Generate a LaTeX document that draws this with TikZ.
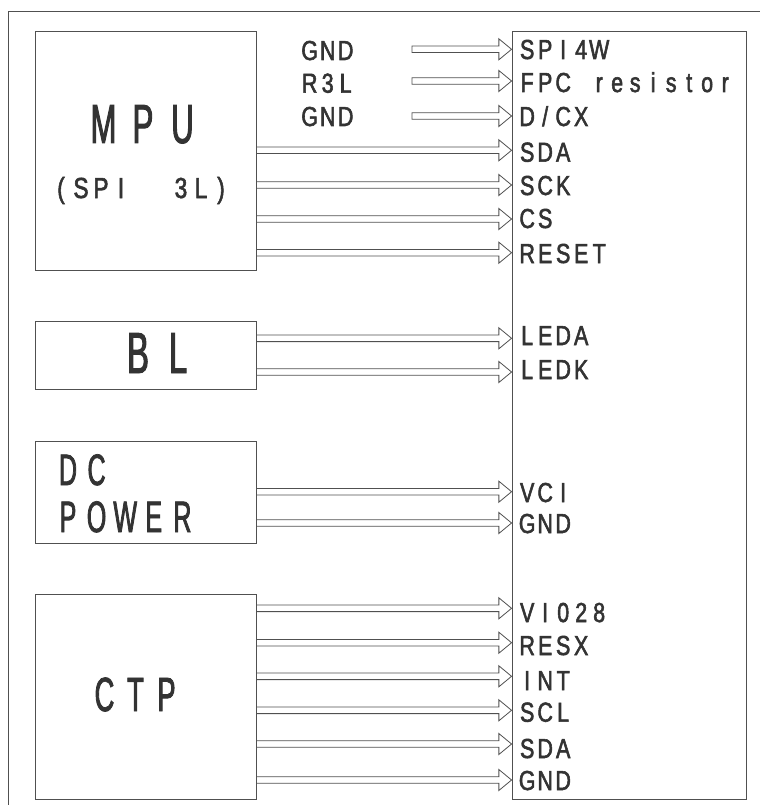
\documentclass[tikz,border=0pt]{standalone}
\usepackage{fontspec}
\usetikzlibrary{calc}
\newfontfamily\cadS[FakeStretch=0.78,FakeBold=2]{Liberation Sans}
\newfontfamily\cadL[FakeStretch=0.57,FakeBold=1.7]{Liberation Sans}
\ExplSyntaxOn
\NewDocumentCommand\pitched{mm}{\tl_map_inline:nn{#2}{\makebox[#1][c]{##1}}}
\ExplSyntaxOff
\definecolor{linec}{HTML}{505050}
\definecolor{textc}{HTML}{333333}
\newcommand\hollow[2]{%
  \draw[harrow] ($(#1)+(0,-3.3)$) -- ($(#2)+(-12.7,-3.3)$) -- ($(#2)+(-12.7,-10.5)$)
    -- (#2) -- ($(#2)+(-12.7,10.5)$) -- ($(#2)+(-12.7,3.3)$) -- ($(#1)+(0,3.3)$) -- cycle;}
\begin{document}
\begin{tikzpicture}[x=1pt,y=-1pt,
  blockbox/.style={draw=linec,line width=0.9pt,inner sep=0pt,fill=none},
  harrow/.style={draw=linec,line width=0.8pt,line join=miter},
  frameline/.style={draw=linec,line width=0.9pt},
  pinlabel/.style={anchor=base west,inner sep=0pt,text=textc,font=\cadS\fontsize{27.5}{31}\selectfont},
  bigtext/.style={anchor=base,inner sep=0pt,text=textc}]
\useasboundingbox (0,0) rectangle (760,805);
\fill[white] (0,0) rectangle (760,805);
\draw[frameline] (8,805) -- (8,11) -- (760,11);
% blocks
\node[blockbox,minimum width=221pt,minimum height=239pt] (mpu) at (145.5,150.5) {};
\node[blockbox,minimum width=221pt,minimum height=68pt] (bl) at (145.5,355) {};
\node[blockbox,minimum width=221pt,minimum height=102pt] (dc) at (145.5,492) {};
\node[blockbox,minimum width=221pt,minimum height=205pt] (ctp) at (145.5,696.5) {};
\node[blockbox,minimum width=234pt,minimum height=768pt] (panel) at (629,415) {};
% block texts
\node[bigtext,font=\cadL\fontsize{55}{62}\selectfont] (tmpu) at (143,143) {\pitched{39.5pt}{MPU}};
\node[bigtext,font=\cadS\fontsize{29}{33}\selectfont] (tspi) at (141,198) {\pitched{20pt}{(SPI~~3L)}};
\node[bigtext,font=\cadL\fontsize{58}{64}\selectfont] (tbl) at (158,373) {\pitched{40pt}{BL}};
\node[bigtext,anchor=base west,font=\cadL\fontsize{44}{50}\selectfont] (tdc) at (53.5,485) {\pitched{28.6pt}{DC}};
\node[bigtext,anchor=base west,font=\cadL\fontsize{44}{50}\selectfont] (tpow) at (53.5,532) {\pitched{28.6pt}{POWER}};
\node[bigtext,font=\cadL\fontsize{48}{54}\selectfont] (tctp) at (135.5,711) {\pitched{31pt}{CTP}};
% left top labels
\node[pinlabel] (lg1) at (300.5,60) {\pitched{18pt}{GND}};
\node[pinlabel] (lr3) at (300.5,92.7) {\pitched{18pt}{R3L}};
\node[pinlabel] (lg2) at (300.5,126) {\pitched{18pt}{GND}};
% pin labels
\node[pinlabel] (nspi) at (518,59) {\pitched{18pt}{SPI4W}};
\node[pinlabel] (nfpc) at (518,92) {\pitched{18pt}{FPC~resistor}};
\node[pinlabel] (ndcx) at (518,126) {\pitched{18pt}{D/CX}};
\node[pinlabel] (nsda) at (518,161.7) {\pitched{18pt}{SDA}};
\node[pinlabel] (nsck) at (518,195) {\pitched{18pt}{SCK}};
\node[pinlabel] (ncs) at (518,228) {\pitched{18pt}{CS}};
\node[pinlabel] (nrst) at (518,263) {\pitched{18pt}{RESET}};
\node[pinlabel] (nleda) at (518,345) {\pitched{18pt}{LEDA}};
\node[pinlabel] (nledk) at (518,379) {\pitched{18pt}{LEDK}};
\node[pinlabel] (nvci) at (518,502) {\pitched{18pt}{VCI}};
\node[pinlabel] (ngnd) at (518,533) {\pitched{18pt}{GND}};
\node[pinlabel] (nvio) at (518,622) {\pitched{18pt}{VI028}};
\node[pinlabel] (nresx) at (518,655) {\pitched{18pt}{RESX}};
\node[pinlabel] (nint) at (518,690) {\pitched{18pt}{INT}};
\node[pinlabel] (nscl) at (518,721.7) {\pitched{18pt}{SCL}};
\node[pinlabel] (nsda2) at (518,758) {\pitched{18pt}{SDA}};
\node[pinlabel] (ngnd2) at (518,790) {\pitched{18pt}{GND}};
% pin coordinates on panel edge
\coordinate (pspi) at (panel.west |- 0,49.3);
\coordinate (pfpc) at (panel.west |- 0,81);
\coordinate (pdcx) at (panel.west |- 0,116);
\coordinate (psda) at (panel.west |- 0,150.3);
\coordinate (psck) at (panel.west |- 0,185);
\coordinate (pcs) at (panel.west |- 0,219);
\coordinate (prst) at (panel.west |- 0,252.7);
\coordinate (pleda) at (panel.west |- 0,338.3);
\coordinate (pledk) at (panel.west |- 0,372);
\coordinate (pvci) at (panel.west |- 0,491.7);
\coordinate (pgnd) at (panel.west |- 0,523);
\coordinate (pvio) at (panel.west |- 0,608.3);
\coordinate (presx) at (panel.west |- 0,642.7);
\coordinate (pint) at (panel.west |- 0,676.3);
\coordinate (pscl) at (panel.west |- 0,710.3);
\coordinate (psda2) at (panel.west |- 0,744);
\coordinate (pgnd2) at (panel.west |- 0,780);
% free starts of top arrows
\coordinate (s1) at (412,49.3);
\coordinate (s2) at (412,81);
\coordinate (s3) at (412,116);
% arrows
\hollow{s1}{pspi}
\hollow{s2}{pfpc}
\hollow{s3}{pdcx}
\hollow{mpu.east |- psda}{psda}
\hollow{mpu.east |- psck}{psck}
\hollow{mpu.east |- pcs}{pcs}
\hollow{mpu.east |- prst}{prst}
\hollow{bl.east |- pleda}{pleda}
\hollow{bl.east |- pledk}{pledk}
\hollow{dc.east |- pvci}{pvci}
\hollow{dc.east |- pgnd}{pgnd}
\hollow{ctp.east |- pvio}{pvio}
\hollow{ctp.east |- presx}{presx}
\hollow{ctp.east |- pint}{pint}
\hollow{ctp.east |- pscl}{pscl}
\hollow{ctp.east |- psda2}{psda2}
\hollow{ctp.east |- pgnd2}{pgnd2}
\end{tikzpicture}
\end{document}
